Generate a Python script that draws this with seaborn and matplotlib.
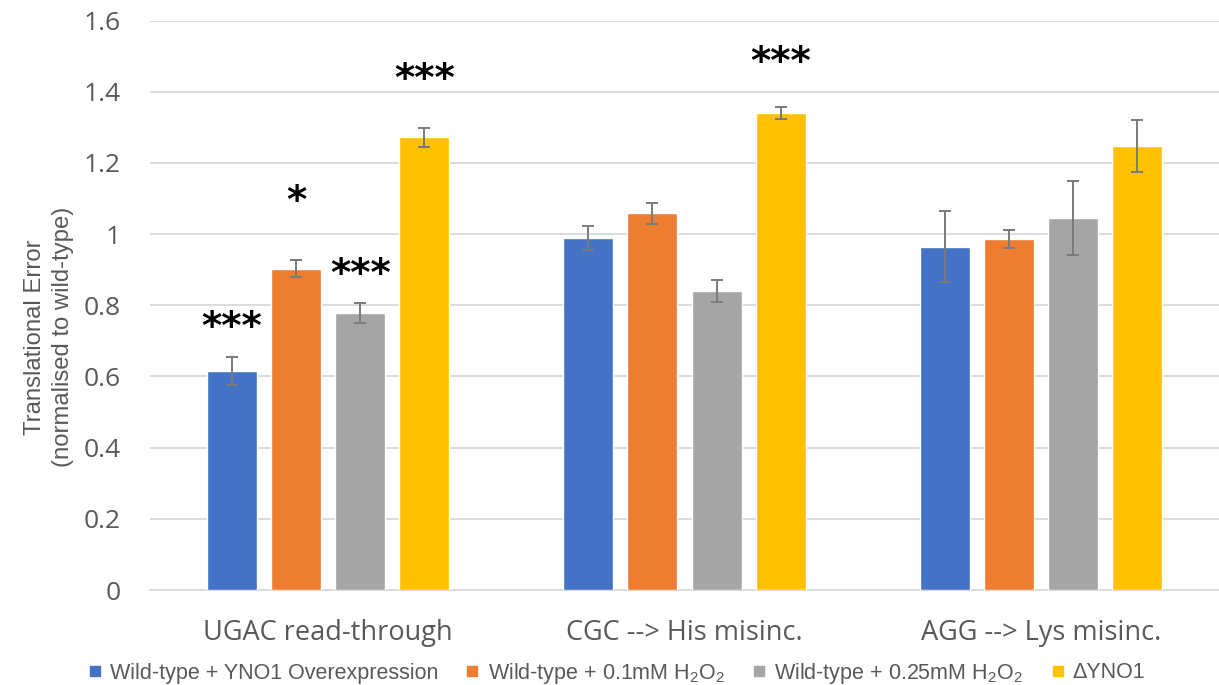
import matplotlib
matplotlib.use("Agg")
import matplotlib.pyplot as plt
from matplotlib.lines import Line2D
import seaborn as sns
import pandas as pd
import numpy as np

# Assays (x categories) and conditions (bar series)
assays = ["UGAC read-through", "CGC --> His misinc.", "AGG --> Lys misinc."]
conditions = [
    "Wild-type + YNO1 Overexpression",
    r"Wild-type + 0.1mM $\mathregular{H_2O_2}$",
    r"Wild-type + 0.25mM $\mathregular{H_2O_2}$",
    "\u0394YNO1",
]

# Mean translational error per condition, one value per assay
overexpression = [0.615, 0.989, 0.964]
h2o2_low = [0.902, 1.058, 0.986]
h2o2_high = [0.778, 0.840, 1.045]
delta_yno1 = [1.272, 1.339, 1.247]

# Error bar half-widths
overexpression_err = [0.040, 0.034, 0.100]
h2o2_low_err = [0.024, 0.029, 0.025]
h2o2_high_err = [0.028, 0.032, 0.104]
delta_yno1_err = [0.027, 0.017, 0.073]

# Significance markers ("" = none)
overexpression_sig = ["***", "", ""]
h2o2_low_sig = ["*", "", ""]
h2o2_high_sig = ["***", "", ""]
delta_yno1_sig = ["***", "***", ""]

colors = ["#4472C4", "#ED7D31", "#A5A5A5", "#FFC000"]

series_vals = [overexpression, h2o2_low, h2o2_high, delta_yno1]
series_err = [overexpression_err, h2o2_low_err, h2o2_high_err, delta_yno1_err]
series_sig = [overexpression_sig, h2o2_low_sig, h2o2_high_sig, delta_yno1_sig]

rows = []
for cond, vals, errs, sigs in zip(conditions, series_vals, series_err, series_sig):
    for assay, v, e, s in zip(assays, vals, errs, sigs):
        rows.append({"assay": assay, "condition": cond, "value": v, "err": e, "sig": s})
df = pd.DataFrame(rows)

sns.set_theme(style="white")
plt.rcParams["font.family"] = ["Open Sans", "DejaVu Sans"]
plt.rcParams["mathtext.default"] = "regular"

fig = plt.figure(figsize=(12.19, 6.85), dpi=100)
ax = fig.add_axes([150 / 1219, 1 - 590 / 685, 1 - 150 / 1219, (590 - 20.5) / 685])

sns.barplot(
    data=df, x="assay", y="value", hue="condition",
    order=assays, hue_order=conditions, palette=colors,
    width=0.72, gap=0.22, errorbar=None, legend=False,
    saturation=1, ax=ax, zorder=3,
)

# Error bars and significance stars placed on the bars seaborn drew
patches = [p for p in ax.patches if p.get_height() > 0]
star_gap = {"***": 0.08, "*": 0.165}
for p in patches:
    cx = p.get_x() + p.get_width() / 2
    h = p.get_height()
    a_idx = int(round(cx))
    row = df[(df["assay"] == assays[a_idx]) & np.isclose(df["value"], h)].iloc[0]
    ax.errorbar(cx, h, yerr=row["err"], fmt="none", ecolor="#7a7a7a",
                elinewidth=1.4, capsize=4, capthick=1.4, zorder=4)
    if row["sig"]:
        gap = star_gap[row["sig"]]
        if row["condition"] == conditions[3]:
            gap = 0.135 if row["err"] > 0.02 else 0.125
        ax.text(cx, h + row["err"] + gap, row["sig"], ha="center", va="center",
                fontsize=28, fontweight="bold", color="black",
                family=["DejaVu Sans"], zorder=5)

ax.set_xlim(-0.5, 2.5)
ax.set_ylim(0, 1.6)
ax.set_yticks(np.arange(0, 1.61, 0.2))
ax.set_yticklabels(["0", "0.2", "0.4", "0.6", "0.8", "1", "1.2", "1.4", "1.6"])
ax.yaxis.grid(True, color="#D9D9D9", linewidth=1.3, zorder=0)
ax.set_axisbelow(True)
for s in ["top", "right", "left"]:
    ax.spines[s].set_visible(False)
ax.spines["bottom"].set_color("#D9D9D9")
ax.spines["bottom"].set_linewidth(1.3)
ax.tick_params(axis="y", length=0, pad=21, labelsize=19, labelcolor="#595959")
ax.tick_params(axis="x", length=0, pad=21, labelsize=19.5, labelcolor="#595959")
ax.set_xlabel("")
ax.set_ylabel("Translational Error\n(normalised to wild-type)", fontsize=17.2,
              color="#595959", linespacing=1.35, family=["Liberation Sans", "DejaVu Sans"])
ax.yaxis.set_label_coords((74 - 150) / 1069, (590 - 337) / (590 - 20.5))

handles = [Line2D([0], [0], marker="s", linestyle="none", markersize=7,
                  markerfacecolor=c, markeredgecolor=c) for c in colors]
fig.legend(handles, conditions, loc="center", bbox_to_anchor=(0.505, 1 - 673 / 685),
           ncol=4, frameon=False, handlelength=0.8,
           prop={"family": ["Liberation Sans", "DejaVu Sans"], "size": 15.5},
           handletextpad=0.3, columnspacing=1.2, labelcolor="#595959")

fig.savefig("out.png", dpi=100)
